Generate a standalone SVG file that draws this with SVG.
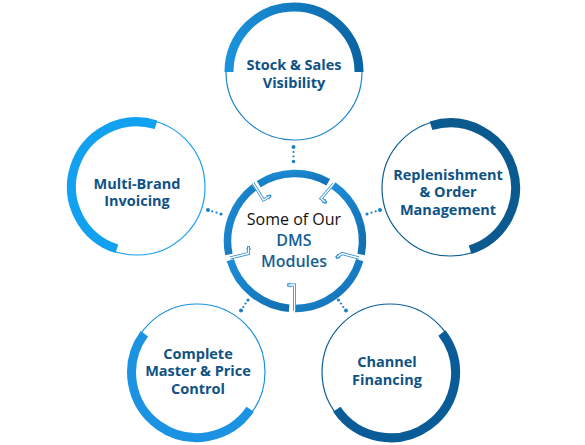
<svg xmlns="http://www.w3.org/2000/svg" width="585" height="445" viewBox="0 0 585 445">
<defs>
<linearGradient id="gTop" x1="0" y1="0" x2="1" y2="0"><stop offset="0" stop-color="#1b92dc"/><stop offset="1" stop-color="#0b64a3"/></linearGradient>
<linearGradient id="gCen" x1="0" y1="0" x2="1" y2="1"><stop offset="0" stop-color="#1c8ed8"/><stop offset="1" stop-color="#136fb2"/></linearGradient>
<marker id="ah" markerUnits="userSpaceOnUse" viewBox="0 0 8 8" refX="6.5" refY="4" markerWidth="6" markerHeight="6" orient="auto">
<path d="M1.5,1 L6.5,4 L1.5,7" fill="none" stroke="#2a8ad4" stroke-width="1.1"/>
</marker>
<style>
.thin{fill:#fff;stroke-width:1.2}
.arc{fill:none;stroke-width:9}
.lbl{font-family:"Open Sans","Liberation Sans",sans-serif;font-weight:700;font-size:14.5px;fill:#0f5285;text-anchor:middle}
.cen{font-family:"Open Sans","Liberation Sans",sans-serif;font-size:16px;text-anchor:middle}
.ring{fill:none;stroke:url(#gCen);stroke-width:7.5}
.so{fill:none;stroke:#2a8ad4;stroke-width:3}
.si{fill:none;stroke:#fff;stroke-width:1.4}
.dot{fill:#1a80c8}
</style>
</defs>

<g id="node-top">
<circle class="thin" cx="294" cy="72" r="68" stroke="#1b84cc"/>
<path class="arc" stroke="url(#gTop)" d="M229,72 A65,65 0 0 1 359,72"/>
<text class="lbl" x="294" y="70">Stock &amp; Sales</text>
<text class="lbl" x="294" y="87.5">Visibility</text>
</g>

<g id="node-right">
<circle class="thin" cx="450" cy="188" r="68" stroke="#0d5d93"/>
<path class="arc" stroke="#0b5a8f" d="M431,125.8 A65,65 0 0 1 470.1,249.8"/>
<text class="lbl" x="448" y="179.5">Replenishment</text>
<text class="lbl" x="448" y="197">&amp; Order</text>
<text class="lbl" x="448" y="214.5">Management</text>
</g>

<g id="node-left">
<circle class="thin" cx="137" cy="187" r="68" stroke="#1aa0ee"/>
<path class="arc" stroke="#12a0f0" d="M116.9,248.8 A65,65 0 0 1 156,124.8"/>
<text class="lbl" x="137" y="188.5">Multi-Brand</text>
<text class="lbl" x="137" y="206">Invoicing</text>
</g>

<g id="node-bottom-left">
<circle class="thin" cx="197" cy="372" r="68" stroke="#1a90e0"/>
<path class="arc" stroke="#1b92e2" d="M250.2,409.3 A65,65 0 1 1 144.4,333.8"/>
<text class="lbl" x="198" y="358.5">Complete</text>
<text class="lbl" x="198" y="376">Master &amp; Price</text>
<text class="lbl" x="198" y="393.5">Control</text>
</g>

<g id="node-bottom-right">
<circle class="thin" cx="390" cy="372" r="68" stroke="#0c5f9c"/>
<path class="arc" stroke="#0a5c98" d="M441.9,332.9 A65,65 0 1 1 336.8,409.3"/>
<text class="lbl" x="387" y="367">Channel</text>
<text class="lbl" x="387" y="384.5">Financing</text>
</g>

<g id="node-center">
<circle cx="295" cy="241" r="66" fill="#fff"/>
<path class="ring" d="M359.72,260.17 A67.5,67.5 0 0 1 295,308.5"/>
<path class="ring" d="M289.12,308.24 A67.5,67.5 0 0 1 230.28,260.17"/>
<path class="ring" d="M228.86,254.46 A67.5,67.5 0 0 1 253.91,187.45"/>
<path class="ring" d="M258.73,184.07 A67.5,67.5 0 0 1 328.24,182.25"/>
<path class="ring" d="M333.23,185.37 A67.5,67.5 0 0 1 361.14,254.46"/>
<text class="cen" x="294" y="225" fill="#111" font-weight="500">Some of Our</text>
<text class="cen" x="294" y="246" fill="#175f95" font-weight="600">DMS</text>
<text class="cen" x="294" y="267" fill="#175f95" font-weight="600">Modules</text>
</g>

<g id="connectors">
<path class="so" d="M253,183 L263.5,200 L271,195.5"/>
<path class="si" d="M253,183 L263.5,200 L271,195.5" marker-end="url(#ah)"/>
<path class="so" d="M333.5,184 L321,198.5 L326.5,203"/>
<path class="si" d="M333.5,184 L321,198.5 L326.5,203" marker-end="url(#ah)"/>
<path class="so" d="M230,258 L248.5,253.5 L248.5,246"/>
<path class="si" d="M230,258 L248.5,253.5 L248.5,246" marker-end="url(#ah)"/>
<path class="so" d="M359,258 L342,253.5 L336,258"/>
<path class="si" d="M359,258 L342,253.5 L336,258" marker-end="url(#ah)"/>
<path class="so" d="M294.5,311 L294.5,285 L287,285"/>
<path class="si" d="M294.5,311 L294.5,285 L287,285" marker-end="url(#ah)"/>

<circle class="dot" cx="293.5" cy="147" r="2"/>
<circle class="dot" cx="293.5" cy="152" r="1.1"/>
<circle class="dot" cx="293.5" cy="156.5" r="1.1"/>
<circle class="dot" cx="293.5" cy="161.5" r="1.8"/>

<circle class="dot" cx="208" cy="210" r="2"/>
<circle class="dot" cx="212.3" cy="211.3" r="1.1"/>
<circle class="dot" cx="216.5" cy="212.6" r="1.1"/>
<circle class="dot" cx="221" cy="214" r="1.6"/>

<circle class="dot" cx="380" cy="210" r="2"/>
<circle class="dot" cx="375.7" cy="211.3" r="1.1"/>
<circle class="dot" cx="371.5" cy="212.6" r="1.1"/>
<circle class="dot" cx="367" cy="214" r="1.6"/>

<circle class="dot" cx="241" cy="310.5" r="2"/>
<circle class="dot" cx="243.3" cy="307" r="1.1"/>
<circle class="dot" cx="245.5" cy="303.5" r="1.1"/>
<circle class="dot" cx="248" cy="300" r="1.6"/>

<circle class="dot" cx="338.5" cy="300" r="1.6"/>
<circle class="dot" cx="341" cy="303.5" r="1.1"/>
<circle class="dot" cx="343.3" cy="307" r="1.1"/>
<circle class="dot" cx="346" cy="310.5" r="2"/>
</g>
</svg>
